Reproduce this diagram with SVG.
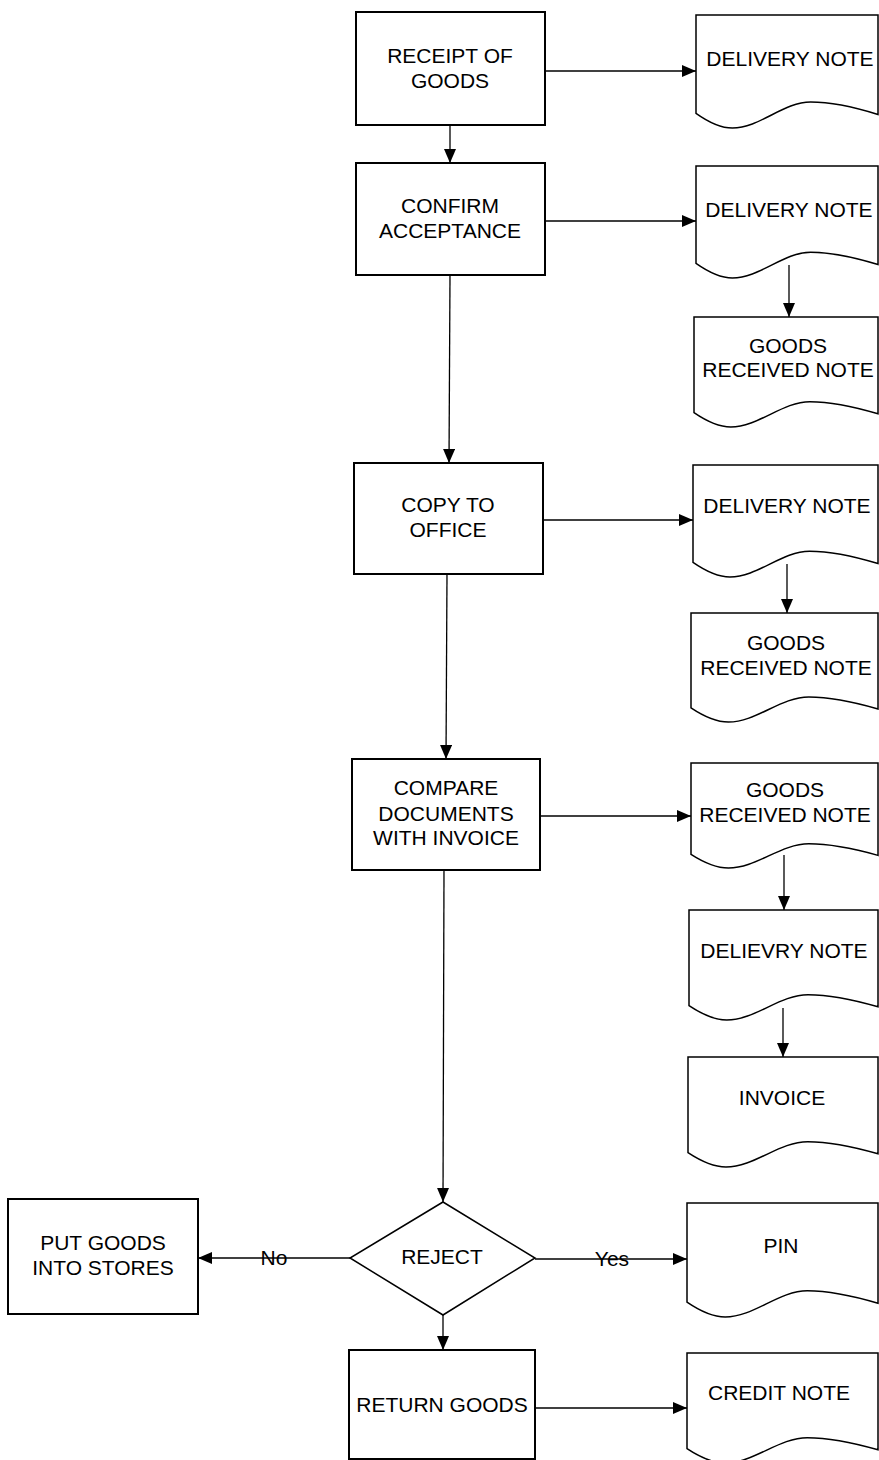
<svg xmlns="http://www.w3.org/2000/svg" width="879" height="1460" viewBox="0 0 879 1460">
<style>
.box{fill:#fff;stroke:#000;stroke-width:2}
.doc{fill:#fff;stroke:#000;stroke-width:1.5}
.dia{fill:#fff;stroke:#000;stroke-width:1.5}
.t{font-family:"Liberation Sans",Arial,sans-serif;font-size:21px;fill:#000;text-anchor:middle}
.ln{stroke:#000;stroke-width:1.3;fill:none;marker-end:url(#ah)}
</style>
<defs>
<marker id="ah" viewBox="0 0 14 12" refX="14" refY="6" markerWidth="14" markerHeight="12" markerUnits="userSpaceOnUse" orient="auto">
<path d="M0,0 L14,6 L0,12 Z" fill="#000"/>
</marker>
</defs>
<rect width="879" height="1460" fill="#fff"/>

<g id="connectors">
<line class="ln" x1="545" y1="71" x2="696" y2="71"/>
<line class="ln" x1="450" y1="125" x2="450" y2="163"/>
<line class="ln" x1="545" y1="221" x2="696" y2="221"/>
<line class="ln" x1="789" y1="265" x2="789" y2="317"/>
<line class="ln" x1="450" y1="275" x2="449" y2="463"/>
<line class="ln" x1="543" y1="520" x2="693" y2="520"/>
<line class="ln" x1="787" y1="564" x2="787" y2="613"/>
<line class="ln" x1="447" y1="574" x2="446" y2="759"/>
<line class="ln" x1="540" y1="816" x2="691" y2="816"/>
<line class="ln" x1="784" y1="855" x2="784" y2="910"/>
<line class="ln" x1="783" y1="1008" x2="783" y2="1057"/>
<line class="ln" x1="444" y1="870" x2="443" y2="1202"/>
<line class="ln" x1="350" y1="1258" x2="198" y2="1258"/>
<line class="ln" x1="535" y1="1259" x2="687" y2="1259"/>
<line class="ln" x1="443" y1="1315" x2="443" y2="1350"/>
<line class="ln" x1="535" y1="1408" x2="687" y2="1408"/>
<text class="t" x="274" y="1265">No</text>
<text class="t" x="612" y="1266">Yes</text>
</g>

<g id="receipt">
<rect class="box" x="356" y="12" width="189" height="113"/>
<text class="t" x="450" y="63">RECEIPT OF</text>
<text class="t" x="450" y="88">GOODS</text>
</g>
<g id="doc1">
<path class="doc" vector-effect="non-scaling-stroke" transform="translate(696,15) scale(1.82,1.13)" d="M0,0 H100 V88 C90,83 77,77 63,77 C48,77 35,100 20,100 C13,100 7,95 0,87 Z"/>
<text class="t" x="790" y="66">DELIVERY NOTE</text>
</g>
<g id="confirm">
<rect class="box" x="356" y="163" width="189" height="112"/>
<text class="t" x="450" y="213">CONFIRM</text>
<text class="t" x="450" y="238">ACCEPTANCE</text>
</g>
<g id="doc2">
<path class="doc" vector-effect="non-scaling-stroke" transform="translate(696,166) scale(1.82,1.12)" d="M0,0 H100 V88 C90,83 77,77 63,77 C48,77 35,100 20,100 C13,100 7,95 0,87 Z"/>
<text class="t" x="789" y="217">DELIVERY NOTE</text>
</g>
<g id="doc3">
<path class="doc" vector-effect="non-scaling-stroke" transform="translate(694,317) scale(1.84,1.10)" d="M0,0 H100 V88 C90,83 77,77 63,77 C48,77 35,100 20,100 C13,100 7,95 0,87 Z"/>
<text class="t" x="788" y="353">GOODS</text>
<text class="t" x="788" y="377">RECEIVED NOTE</text>
</g>
<g id="copy">
<rect class="box" x="354" y="463" width="189" height="111"/>
<text class="t" x="448" y="512">COPY TO</text>
<text class="t" x="448" y="537">OFFICE</text>
</g>
<g id="doc4">
<path class="doc" vector-effect="non-scaling-stroke" transform="translate(693,465) scale(1.85,1.12)" d="M0,0 H100 V88 C90,83 77,77 63,77 C48,77 35,100 20,100 C13,100 7,95 0,87 Z"/>
<text class="t" x="787" y="513">DELIVERY NOTE</text>
</g>
<g id="doc5">
<path class="doc" vector-effect="non-scaling-stroke" transform="translate(691,613) scale(1.87,1.09)" d="M0,0 H100 V88 C90,83 77,77 63,77 C48,77 35,100 20,100 C13,100 7,95 0,87 Z"/>
<text class="t" x="786" y="650">GOODS</text>
<text class="t" x="786" y="675">RECEIVED NOTE</text>
</g>
<g id="compare">
<rect class="box" x="352" y="759" width="188" height="111"/>
<text class="t" x="446" y="795">COMPARE</text>
<text class="t" x="446" y="821">DOCUMENTS</text>
<text class="t" x="446" y="845">WITH INVOICE</text>
</g>
<g id="doc6">
<path class="doc" vector-effect="non-scaling-stroke" transform="translate(691,763) scale(1.87,1.05)" d="M0,0 H100 V88 C90,83 77,77 63,77 C48,77 35,100 20,100 C13,100 7,95 0,87 Z"/>
<text class="t" x="785" y="797">GOODS</text>
<text class="t" x="785" y="822">RECEIVED NOTE</text>
</g>
<g id="doc7">
<path class="doc" vector-effect="non-scaling-stroke" transform="translate(689,910) scale(1.89,1.10)" d="M0,0 H100 V88 C90,83 77,77 63,77 C48,77 35,100 20,100 C13,100 7,95 0,87 Z"/>
<text class="t" x="784" y="958">DELIEVRY NOTE</text>
</g>
<g id="doc8">
<path class="doc" vector-effect="non-scaling-stroke" transform="translate(688,1057) scale(1.90,1.10)" d="M0,0 H100 V88 C90,83 77,77 63,77 C48,77 35,100 20,100 C13,100 7,95 0,87 Z"/>
<text class="t" x="782" y="1105">INVOICE</text>
</g>
<g id="reject">
<polygon class="dia" points="443,1202 535,1258 443,1315 350,1258"/>
<text class="t" x="442" y="1264">REJECT</text>
</g>
<g id="stores">
<rect class="box" x="8" y="1199" width="190" height="115"/>
<text class="t" x="103" y="1250">PUT GOODS</text>
<text class="t" x="103" y="1275">INTO STORES</text>
</g>
<g id="pin">
<path class="doc" vector-effect="non-scaling-stroke" transform="translate(687,1203) scale(1.91,1.14)" d="M0,0 H100 V88 C90,83 77,77 63,77 C48,77 35,100 20,100 C13,100 7,95 0,87 Z"/>
<text class="t" x="781" y="1253">PIN</text>
</g>
<g id="return">
<rect class="box" x="349" y="1350" width="186" height="109"/>
<text class="t" x="442" y="1412">RETURN GOODS</text>
</g>
<g id="credit">
<path class="doc" vector-effect="non-scaling-stroke" transform="translate(687,1353) scale(1.91,1.10)" d="M0,0 H100 V88 C90,83 77,77 63,77 C48,77 35,100 20,100 C13,100 7,95 0,87 Z"/>
<text class="t" x="779" y="1400">CREDIT NOTE</text>
</g>
</svg>
